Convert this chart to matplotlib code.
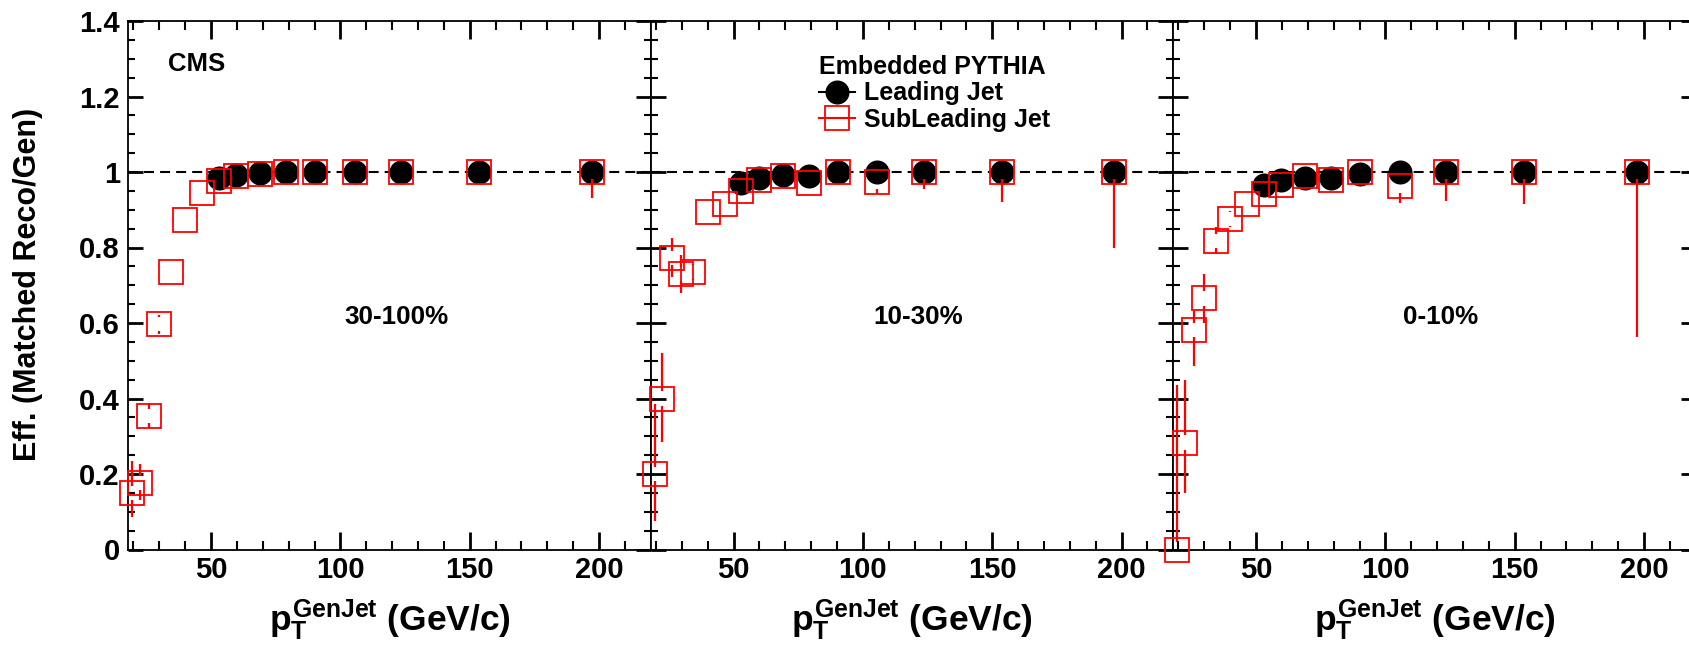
import numpy as np
import matplotlib
matplotlib.use("Agg")
import matplotlib.pyplot as plt
from matplotlib.lines import Line2D
from matplotlib.ticker import MultipleLocator, FixedLocator, FixedFormatter

plt.rcParams['font.family'] = ['Liberation Sans', 'DejaVu Sans']
plt.rcParams['font.weight'] = 'bold'
plt.rcParams['mathtext.fontset'] = 'custom'
plt.rcParams['mathtext.rm'] = 'Liberation Sans:bold'
plt.rcParams['mathtext.it'] = 'Liberation Sans:bold'
plt.rcParams['mathtext.bf'] = 'Liberation Sans:bold'
plt.rcParams['mathtext.sf'] = 'Liberation Sans:bold'

# pT bin centres (GeV/c)
pt_sub = [19.5, 22.5, 26.1, 29.8, 34.4, 40.0, 46.6, 53.0, 59.8, 69.0, 79.0,
          90.3, 105.5, 123.6, 153.6, 197.2]
pt_lead = pt_sub[7:]

centrality = ["30-100%", "10-30%", "0-10%"]

# leading jet efficiency per centrality
lead_30_100 = [0.985, 0.992, 0.997, 1.0, 1.0, 1.0, 1.0, 1.0, 1.0]
lead_10_30 = [0.970, 0.983, 0.992, 0.990, 1.0, 1.0, 1.0, 1.0, 1.0]
lead_0_10 = [0.966, 0.978, 0.985, 0.985, 0.995, 1.0, 1.0, 1.0, 1.0]

# subleading jet efficiency, lower / upper errors
sub_30_100 = [0.150, 0.176, 0.354, 0.597, 0.735, 0.872, 0.945, 0.977, 0.989,
              0.995, 0.999, 1.0, 1.0, 1.0, 1.0, 1.0]
sub_30_100_lo = [0.065, 0.045, 0.033, 0.025, 0.010, 0.010, 0.008, 0.005, 0.004,
                 0.003, 0.002, 0.001, 0.001, 0.002, 0.010, 0.070]
sub_30_100_hi = [0.085, 0.050, 0.035, 0.025, 0.010, 0.010, 0.008, 0.005, 0.004,
                 0.003, 0.001, 0.0, 0.0, 0.0, 0.0, 0.0]

sub_10_30 = [0.200, 0.400, 0.773, 0.729, 0.735, 0.893, 0.915, 0.950, 0.979,
             0.989, 0.970, 0.999, 0.973, 1.0, 1.0, 1.0]
sub_10_30_lo = [0.125, 0.115, 0.050, 0.050, 0.020, 0.010, 0.010, 0.010, 0.010,
                0.005, 0.010, 0.005, 0.030, 0.045, 0.080, 0.200]
sub_10_30_hi = [0.185, 0.120, 0.051, 0.050, 0.020, 0.010, 0.010, 0.010, 0.010,
                0.005, 0.010, 0.001, 0.010, 0.0, 0.0, 0.0]

sub_0_10 = [0.0, 0.283, 0.581, 0.665, 0.818, 0.875, 0.915, 0.942, 0.966,
            0.990, 0.978, 1.0, 0.964, 1.0, 1.0, 1.0]
sub_0_10_lo = [0.0, 0.133, 0.095, 0.065, 0.035, 0.022, 0.010, 0.010, 0.008,
               0.005, 0.008, 0.003, 0.046, 0.077, 0.084, 0.436]
sub_0_10_hi = [0.435, 0.167, 0.050, 0.065, 0.035, 0.022, 0.010, 0.010, 0.008,
               0.005, 0.008, 0.0, 0.020, 0.0, 0.0, 0.0]

lead_all = [lead_30_100, lead_10_30, lead_0_10]
sub_all = [sub_30_100, sub_10_30, sub_0_10]
sub_lo_all = [sub_30_100_lo, sub_10_30_lo, sub_0_10_lo]
sub_hi_all = [sub_30_100_hi, sub_10_30_hi, sub_0_10_hi]

ytick_vals = [0, 0.2, 0.4, 0.6, 0.8, 1.0, 1.2, 1.4]
ytick_labels = ["0", "0.2", "0.4", "0.6", "0.8", "1", "1.2", "1.4"]
xtick_vals = [50, 100, 150, 200]
xtick_labels = ["50", "100", "150", "200"]

# layout in pixels (figure is 1689 x 646)
W, H = 1689, 646
LEFT0, PANEL_W = 128.3, 522.5
Y0_PIX, Y1_PIX = 549.5, 21.0
GAP = 0.019  # ROOT leaves the error bar out near the marker centre


def draw_bars(ax, x, y, lo, hi):
    x = np.asarray(x)
    y = np.asarray(y)
    lo = np.asarray(lo)
    hi = np.asarray(hi)
    up = hi > GAP
    dn = lo > GAP
    ax.vlines(x[up], y[up] + GAP, y[up] + hi[up], color='red', lw=1.6,
              clip_on=False, zorder=5)
    ax.vlines(x[dn], y[dn] - lo[dn], y[dn] - GAP, color='red', lw=1.6,
              clip_on=False, zorder=5)


fig = plt.figure(figsize=(W / 100, H / 100), dpi=100)
axes = []
for i in range(3):
    ax = fig.add_axes([(LEFT0 + i * PANEL_W) / W, (H - Y0_PIX) / H,
                       PANEL_W / W, (Y0_PIX - Y1_PIX) / H])
    axes.append(ax)

    ax.axhline(1.0, color='black', lw=1.5, ls=(0, (4.8, 2.9)), zorder=1)

    ax.plot(pt_lead, lead_all[i], 'o', color='black', ms=16.3, zorder=3,
            clip_on=False)
    ax.plot(pt_sub, sub_all[i], 's', color='red', mfc='none', ms=16.8, mew=1.3,
            zorder=4, clip_on=False)
    draw_bars(ax, pt_sub, sub_all[i], sub_lo_all[i], sub_hi_all[i])

    ax.set_xlim(18, 220)
    ax.set_ylim(0, 1.4)

    ax.xaxis.set_major_locator(FixedLocator(xtick_vals))
    ax.xaxis.set_major_formatter(FixedFormatter(xtick_labels))
    ax.xaxis.set_minor_locator(MultipleLocator(10))
    ax.yaxis.set_major_locator(FixedLocator(ytick_vals))
    ax.yaxis.set_minor_locator(MultipleLocator(0.05))
    if i == 0:
        ax.yaxis.set_major_formatter(FixedFormatter(ytick_labels))
    else:
        ax.set_yticklabels([])

    ax.tick_params(axis='both', which='both', direction='in', top=True,
                   right=True, colors='black')
    ax.tick_params(axis='x', which='major', length=13, width=2.0, pad=5,
                   labelsize=21)
    ax.tick_params(axis='x', which='minor', length=6.5, width=1.5)
    ax.tick_params(axis='y', which='major', length=10.5, width=2.0, pad=6,
                   labelsize=21)
    ax.tick_params(axis='y', which='minor', length=5, width=1.5)
    for lab in ax.get_xticklabels() + ax.get_yticklabels():
        lab.set_fontweight('bold')
    for sp in ax.spines.values():
        sp.set_linewidth(1.3)

    ax.set_xlabel(r'$p_{T}^{GenJet}$ (GeV/c)', fontsize=25.5, fontweight='bold')
    ax.xaxis.set_label_coords(0.5, -0.09)

    ax.text(121.5, 0.617, centrality[i], ha='center', va='center',
            fontsize=18.7, fontweight='bold')

axes[0].text(33.4, 1.286, "CMS", ha='left', va='center', fontsize=18.5,
             fontweight='bold')

handles = [
    Line2D([], [], color='black', marker='o', ms=16.3, lw=1.5),
    Line2D([], [], color='red', marker='s', mfc='none', ms=16.8, mew=1.3, lw=1.5),
]
leg = axes[1].legend(handles, ["Leading Jet", "SubLeading Jet"],
                     title="Embedded PYTHIA", loc='upper left',
                     bbox_to_anchor=(0.3215, 0.936), frameon=False,
                     fontsize=18, title_fontproperties={'weight': 'bold', 'size': 18},
                     alignment='left', handlelength=1.44, handletextpad=0.36,
                     labelspacing=0.1, borderpad=0, borderaxespad=0)
for t in leg.get_texts():
    t.set_fontweight('bold')

fig.text(28.5 / W, (H - 284) / H, "Eff. (Matched Reco/Gen)", rotation=90,
         ha='center', va='center', fontsize=22, fontweight='bold')

fig.savefig("out.png", dpi=100)
